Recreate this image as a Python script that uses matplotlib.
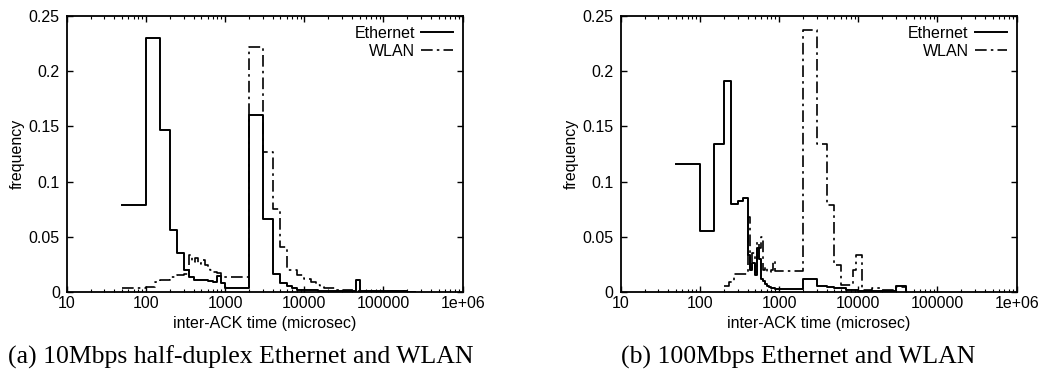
import numpy as np
import matplotlib.pyplot as plt
from matplotlib.ticker import FixedLocator, NullFormatter

plt.rcParams['font.family'] = ['Liberation Sans', 'DejaVu Sans']

# (a) 10Mbps half-duplex Ethernet and WLAN
eth_a_edges = [50, 100, 150, 200, 250, 300, 350, 400, 500, 600, 700, 800, 900, 1000,
               2000, 3000, 4000, 5000, 6000, 7000, 8000, 10000, 15000, 20000, 30000,
               45000, 50000, 55000, 100000, 200000, 250000]
eth_a_vals = [0.079, 0.23, 0.147, 0.056, 0.035, 0.02, 0.013, 0.011, 0.0105, 0.0095,
              0.0085, 0.014, 0.0076, 0.0037, 0.16, 0.066, 0.016, 0.0075, 0.005, 0.003,
              0.002, 0.0015, 0.001, 0.001, 0.0008, 0.011, 0.0008, 0.0005, 0.0003, 0.0002]

wlan_a_edges = [50, 100, 130, 150, 200, 250, 300, 350, 380, 420, 450, 500, 550, 600,
                650, 700, 800, 900, 1000, 2000, 3000, 4000, 5000, 6000, 8000, 10000,
                12000, 14000, 16000, 18000, 20000, 25000, 30000, 40000, 60000, 100000,
                200000]
wlan_a_vals = [0.003, 0.004, 0.009, 0.0105, 0.013, 0.015, 0.016, 0.033, 0.027, 0.031,
               0.025, 0.029, 0.024, 0.022, 0.02, 0.018, 0.017, 0.0135, 0.0135, 0.222,
               0.127, 0.075, 0.041, 0.02, 0.015, 0.012, 0.009, 0.006, 0.004, 0.003,
               0.003, 0.002, 0.0015, 0.001, 0.0008, 0.0005]

# (b) 100Mbps Ethernet and WLAN
eth_b_edges = [50, 100, 150, 200, 250, 300, 350, 400, 430, 460, 500, 530, 560, 600,
               630, 660, 700, 750, 800, 900, 2000, 3000, 4000, 5000, 7000, 10000,
               20000, 30000, 40000]
eth_b_vals = [0.116, 0.055, 0.134, 0.191, 0.08, 0.082, 0.085, 0.033, 0.02, 0.026,
              0.015, 0.04, 0.03, 0.012, 0.01, 0.007, 0.005, 0.004, 0.003, 0.0025,
              0.012, 0.005, 0.004, 0.003, 0.002, 0.001, 0.0008, 0.005]

wlan_b_edges = [200, 230, 270, 400, 430, 460, 500, 530, 560, 600, 630, 660, 700, 800,
                850, 900, 2000, 3000, 4000, 5000, 6000, 8500, 9500, 11000, 15000,
                20000, 30000, 40000]
wlan_b_vals = [0.005, 0.009, 0.016, 0.068, 0.02, 0.035, 0.018, 0.045, 0.04, 0.05,
               0.02, 0.022, 0.018, 0.02, 0.028, 0.019, 0.237, 0.134, 0.079, 0.024,
               0.006, 0.02, 0.033, 0.002, 0.003, 0.002, 0.004]

y_ticks = [0, 0.05, 0.1, 0.15, 0.2, 0.25]
y_labels = ['0', '0.05', '0.1', '0.15', '0.2', '0.25']
x_ticks = [10, 100, 1000, 10000, 100000, 1000000]
x_labels = ['10', '100', '1000', '10000', '100000', '1e+06']

captions = ['(a) 10Mbps half-duplex Ethernet and WLAN', '(b) 100Mbps Ethernet and WLAN']

fig = plt.figure(figsize=(10.52, 3.75), dpi=100)
ax_a = fig.add_axes([0.0634, 0.222, 0.3764, 0.735])
ax_b = fig.add_axes([0.590, 0.222, 0.3764, 0.735])

dashdot = (0, (7, 2.5, 1.5, 2.5))

panels = [(ax_a, eth_a_edges, eth_a_vals, wlan_a_edges, wlan_a_vals),
          (ax_b, eth_b_edges, eth_b_vals, wlan_b_edges, wlan_b_vals)]

for ax, ee, ev, we, wv in panels:
    ax.step(ee, np.append(ev, 0), where='post', color='black', lw=1.4, label='Ethernet')
    ax.step(we, np.append(wv, 0), where='post', color='black', lw=1.2,
            linestyle=dashdot, label='WLAN')
    ax.set_xscale('log')
    ax.set_xlim(10, 1e6)
    ax.set_ylim(0, 0.25)
    ax.xaxis.set_major_locator(FixedLocator(x_ticks))
    ax.set_xticklabels(x_labels)
    minors = [m * 10 ** k for k in range(1, 6) for m in range(2, 10)]
    ax.xaxis.set_minor_locator(FixedLocator(minors))
    ax.xaxis.set_minor_formatter(NullFormatter())
    ax.set_yticks(y_ticks)
    ax.set_yticklabels(y_labels)
    ax.tick_params(which='both', direction='in', top=True, right=True, labelsize=11.5)
    ax.tick_params(axis='y', pad=5)
    ax.tick_params(axis='x', pad=3)
    ax.tick_params(which='major', length=4, width=1)
    ax.tick_params(which='minor', length=2, width=0.8)
    for s in ax.spines.values():
        s.set_linewidth(1.3)
    ax.set_xlabel('inter-ACK time (microsec)', fontsize=11.5, labelpad=4)
    ax.set_ylabel('frequency', fontsize=11.5, labelpad=3)
    ax.legend(loc='upper right', frameon=False, markerfirst=False, fontsize=11.5,
              handlelength=2.0, handletextpad=0.4, labelspacing=0.2,
              borderaxespad=0.2)

fig.text(0.008, 0.048, captions[0], family='Liberation Serif', fontsize=18.5,
         ha='left', va='center')
fig.text(0.590, 0.048, captions[1], family='Liberation Serif', fontsize=18.5,
         ha='left', va='center')

fig.savefig('out.png', dpi=100)
